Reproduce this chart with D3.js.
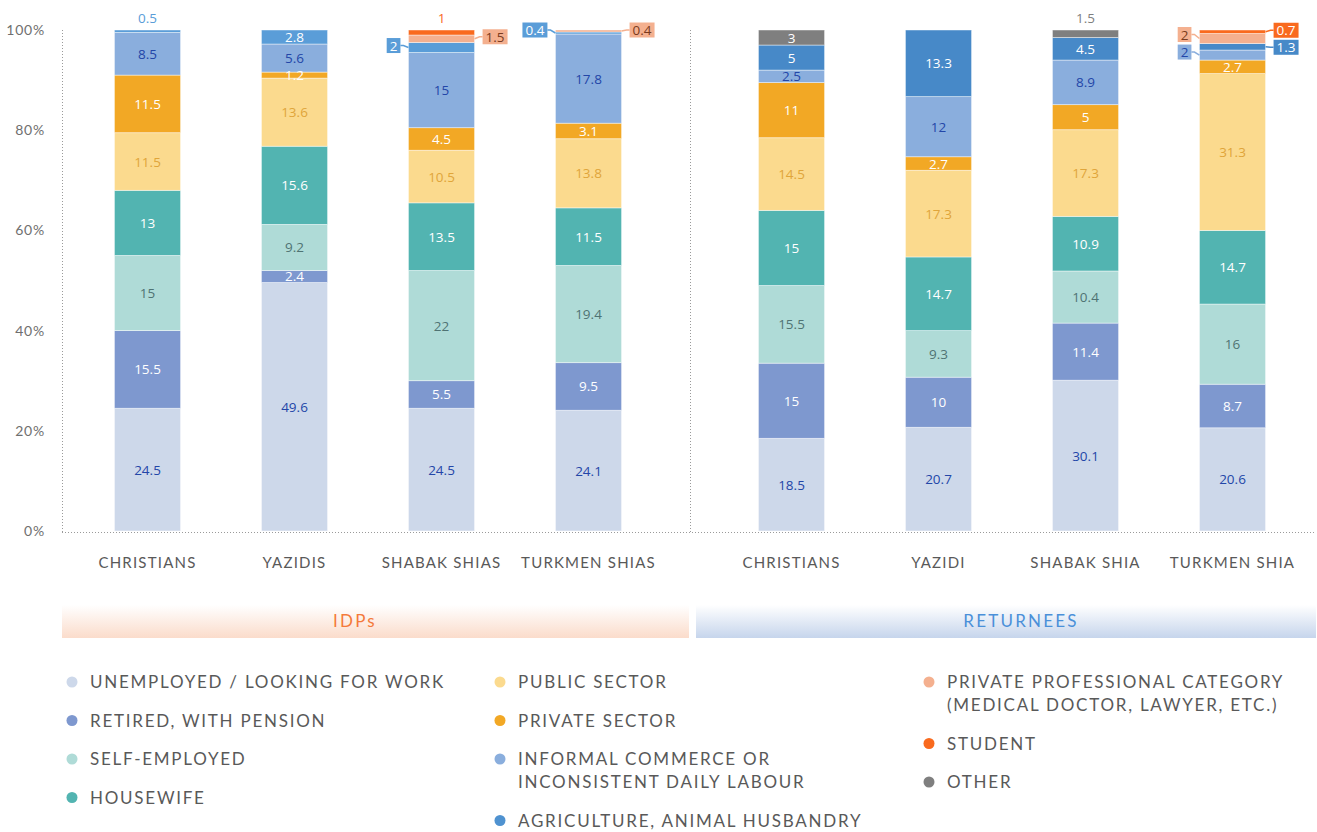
<!DOCTYPE html>
<html lang="en">
<head>
<meta charset="UTF-8">
<title>Employment status of IDPs and returnees</title>
<script src="https://d3js.org/d3.v7.min.js"></script>
<style>
  body { margin: 0; background: #fff; }
  svg { display: block; }
  .cat, .tick-lbl, .legend text, .group-lbl { font-family: Lato, "Open Sans", sans-serif; }
  .num { font-family: "Open Sans", sans-serif; font-size: 13.5px; }
</style>
</head>
<body>
<div id="chart"></div>
<script>
// categories
const idpCats = ["CHRISTIANS", "YAZIDIS", "SHABAK SHIAS", "TURKMEN SHIAS"];
const retCats = ["CHRISTIANS", "YAZIDI", "SHABAK SHIA", "TURKMEN SHIA"];
const groups = ["IDPs", "RETURNEES"];
const yTicks = [0, 20, 40, 60, 80, 100];

// series values, 4 IDP bars then 4 returnee bars (%)
const unemployed    = [24.5, 49.6, 24.5, 24.1, 18.5, 20.7, 30.1, 20.6];
const retired       = [15.5, 2.4, 5.5, 9.5, 15, 10, 11.4, 8.7];
const selfEmployed  = [15, 9.2, 22, 19.4, 15.5, 9.3, 10.4, 16];
const housewife     = [13, 15.6, 13.5, 11.5, 15, 14.7, 10.9, 14.7];
const publicSector  = [11.5, 13.6, 10.5, 13.8, 14.5, 17.3, 17.3, 31.3];
const privateSector = [11.5, 1.2, 4.5, 3.1, 11, 2.7, 5, 2.7];
const informal      = [8.5, 5.6, 15, 17.8, 2.5, 12, 8.9, 2];
const agriculture   = [0.5, 2.8, 2, 0.4, 5, 13.3, 4.5, 1.3];
const privateProf   = [0, 0, 1.5, 0.4, 0, 0, 0, 2];
const student       = [0, 0, 1, 0, 0, 0, 0, 0.7];
const other         = [0, 0, 0, 0, 3, 0, 1.5, 0];

const seriesKeys = ["unemployed", "retired", "selfEmployed", "housewife", "publicSector",
  "privateSector", "informal", "agriculture", "privateProf", "student", "other"];
const seriesValues = { unemployed, retired, selfEmployed, housewife, publicSector,
  privateSector, informal, agriculture, privateProf, student, other };
const seriesNames = {
  unemployed: ["UNEMPLOYED / LOOKING FOR WORK"],
  retired: ["RETIRED, WITH PENSION"],
  selfEmployed: ["SELF-EMPLOYED"],
  housewife: ["HOUSEWIFE"],
  publicSector: ["PUBLIC SECTOR"],
  privateSector: ["PRIVATE SECTOR"],
  informal: ["INFORMAL COMMERCE OR", "INCONSISTENT DAILY LABOUR"],
  agriculture: ["AGRICULTURE, ANIMAL HUSBANDRY"],
  privateProf: ["PRIVATE PROFESSIONAL CATEGORY", "(MEDICAL DOCTOR, LAWYER, ETC.)"],
  student: ["STUDENT"],
  other: ["OTHER"]
};

// styles
const fills = {
  unemployed: "#cdd8ea", retired: "#7e98cf", selfEmployed: "#afdbd7", housewife: "#52b4b1",
  publicSector: "#fbda8e", privateSector: "#f2a825", informal: "#8aaedd", agriculture: "#5a9dd8",
  privateProf: "#f4b08f", student: "#f96a1e", other: "#7f7f7f"
};
const retAgriFill = "#4789c8";
const labelColors = {
  unemployed: "#2346a8", retired: "#ffffff", selfEmployed: "#4f7373", housewife: "#ffffff",
  publicSector: "#e0a53a", privateSector: "#ffffff", informal: "#2346a8", agriculture: "#ffffff",
  privateProf: "#7a3b20", student: "#ffffff", other: "#ffffff"
};
const topColors = { agriculture: "#5a9dd8", student: "#f96a1e", other: "#7f7f7f" };

// label placement for thin segments
const callouts = [
  { bar: 0, key: "agriculture", pos: "top" },
  { bar: 2, key: "agriculture", pos: "left", dy: -2 },
  { bar: 2, key: "privateProf", pos: "right", dy: -2 },
  { bar: 2, key: "student", pos: "top" },
  { bar: 3, key: "agriculture", pos: "left", dy: -3 },
  { bar: 3, key: "privateProf", pos: "right", dy: -1 },
  { bar: 6, key: "other", pos: "top" },
  { bar: 7, key: "informal", pos: "left", dy: -3 },
  { bar: 7, key: "agriculture", pos: "right", dy: 0.5 },
  { bar: 7, key: "privateProf", pos: "left", dy: -4 },
  { bar: 7, key: "student", pos: "right", dy: -1.5 }
];

const width = 1317, height = 832;
const svg = d3.select("#chart").append("svg")
  .attr("width", width).attr("height", height);

const y = d3.scaleLinear().domain([0, 100]).range([531, 30]);
const xL = d3.scaleBand().domain(idpCats).range([74, 662]).paddingInner(0.55).paddingOuter(0.275);
const xR = d3.scaleBand().domain(retCats).range([718, 1306]).paddingInner(0.55).paddingOuter(0.275);
const barX = i => i < 4 ? xL(idpCats[i]) : xR(retCats[i - 4]);
const bw = xL.bandwidth();

// frame: dotted left, divider and bottom
const dot = { stroke: "#9a9a9a", "stroke-width": 1, "stroke-dasharray": "1,2" };
function dline(x1, y1, x2, y2) {
  const l = svg.append("line").attr("x1", x1).attr("y1", y1).attr("x2", x2).attr("y2", y2);
  Object.entries(dot).forEach(([k, v]) => l.attr(k, v));
}
dline(62.5, 30, 62.5, 532);
dline(690.5, 30, 690.5, 532);
dline(62, 532.5, 1316, 532.5);

// y ticks
svg.append("g").selectAll("text").data(yTicks).join("text")
  .attr("class", "tick-lbl")
  .attr("x", 45).attr("y", d => y(d) + 5)
  .attr("text-anchor", "end")
  .attr("fill", "#6f6f6f").style("font-size", "14px").style("letter-spacing", "0.8px")
  .text(d => d + "%");

// stacked data
const rows = d3.range(8).map(i => {
  const r = { i };
  seriesKeys.forEach(k => r[k] = seriesValues[k][i]);
  return r;
});
const stacked = d3.stack().keys(seriesKeys)(rows);

const gBars = svg.append("g");
stacked.forEach(layer => {
  gBars.append("g").selectAll("rect")
    .data(layer.filter(d => d[1] - d[0] > 0))
    .join("rect")
    .attr("x", d => barX(d.data.i))
    .attr("width", bw)
    .attr("y", d => y(d[1]))
    .attr("height", d => y(d[0]) - y(d[1]))
    .attr("fill", d => layer.key === "agriculture" && d.data.i >= 4 ? retAgriFill : fills[layer.key])
    .attr("stroke", "#ffffff").attr("stroke-opacity", 0.55).attr("stroke-width", 0.8);
});

// value labels
const isCallout = (i, k) => callouts.some(c => c.bar === i && c.key === k);
const gLbl = svg.append("g");
stacked.forEach(layer => {
  layer.forEach(d => {
    const v = d[1] - d[0];
    if (v <= 0 || isCallout(d.data.i, layer.key)) return;
    gLbl.append("text").attr("class", "num")
      .attr("x", barX(d.data.i) + bw / 2)
      .attr("y", (y(d[0]) + y(d[1])) / 2 + 5)
      .attr("text-anchor", "middle")
      .attr("fill", labelColors[layer.key])
      .text(+v.toFixed(1));
  });
});

// callouts
callouts.forEach(c => {
  const layer = stacked.find(l => l.key === c.key);
  const d = layer[c.bar];
  const v = +(d[1] - d[0]).toFixed(1);
  const cx = barX(c.bar) + bw / 2;
  const segY = (y(d[0]) + y(d[1])) / 2;
  if (c.pos === "top") {
    gLbl.append("text").attr("class", "num")
      .attr("x", cx).attr("y", y(d[1]) - 7)
      .attr("text-anchor", "middle")
      .attr("fill", topColors[c.key]).text(v);
    return;
  }
  const fill = c.key === "agriculture" && c.bar >= 4 ? retAgriFill : fills[c.key];
  const t = gLbl.append("text").attr("class", "num")
    .attr("fill", labelColors[c.key]).text(v);
  const tw = t.node().getComputedTextLength();
  const boxW = tw + 6, boxH = 15;
  const boxCy = segY + (c.dy || 0);
  const edge = c.pos === "left" ? barX(c.bar) : barX(c.bar) + bw;
  const bx = c.pos === "left" ? edge - 8 - boxW : edge + 8;
  const near = c.pos === "left" ? bx + boxW : bx;
  gLbl.insert("path", "text")
    .attr("d", `M${near},${boxCy}L${near + (c.pos === "left" ? 3 : -3)},${boxCy}L${edge},${segY}`)
    .attr("fill", "none").attr("stroke", fill).attr("stroke-width", 1.5);
  gLbl.insert("rect", "text")
    .attr("x", bx).attr("y", boxCy - boxH / 2).attr("width", boxW).attr("height", boxH)
    .attr("fill", fill);
  t.attr("x", bx + boxW / 2).attr("y", boxCy + 5).attr("text-anchor", "middle");
  t.raise();
});

// category labels
const catLbl = svg.append("g").attr("class", "cat")
  .attr("fill", "#595959").style("font-size", "15px").style("letter-spacing", "1.2px");
idpCats.forEach(c => catLbl.append("text").attr("x", xL(c) + bw / 2).attr("y", 568)
  .attr("text-anchor", "middle").text(c));
retCats.forEach(c => catLbl.append("text").attr("x", xR(c) + bw / 2).attr("y", 568)
  .attr("text-anchor", "middle").text(c));

// group bands
const defs = svg.append("defs");
const grads = [["gIdp", "#fbdccb"], ["gRet", "#c6d5ec"]];
grads.forEach(([id, c]) => {
  const lg = defs.append("linearGradient").attr("id", id)
    .attr("x1", "0%").attr("y1", "0%").attr("x2", "0%").attr("y2", "100%");
  lg.append("stop").attr("offset", "0%").attr("stop-color", "#ffffff");
  lg.append("stop").attr("offset", "100%").attr("stop-color", c);
});
const bands = [
  { x0: 62, x1: 689, tx: 355, grad: "gIdp", color: "#f47a3a" },
  { x0: 696, x1: 1316, tx: 1021, grad: "gRet", color: "#4a90d9" }
];
bands.forEach((b, i) => {
  svg.append("rect").attr("x", b.x0).attr("y", 605).attr("width", b.x1 - b.x0).attr("height", 33)
    .attr("fill", `url(#${b.grad})`);
  svg.append("text").attr("class", "group-lbl")
    .attr("x", b.tx).attr("y", 627)
    .attr("text-anchor", "middle").attr("fill", b.color)
    .style("font-size", "17px").style("letter-spacing", "2.2px")
    .text(groups[i]);
});

// legend
const legendCols = [
  { x: 72, keys: ["unemployed", "retired", "selfEmployed", "housewife"] },
  { x: 500, keys: ["publicSector", "privateSector", "informal", "agriculture"] },
  { x: 929, keys: ["privateProf", "student", "other"] }
];
const leg = svg.append("g").attr("class", "legend");
legendCols.forEach(col => {
  let yy = 682;
  col.keys.forEach(k => {
    const lines = seriesNames[k];
    leg.append("circle").attr("cx", col.x).attr("cy", yy).attr("r", 5.5)
      .attr("fill", k === "agriculture" ? "#4f92d0" : fills[k]);
    lines.forEach((ln, j) => {
      leg.append("text").attr("x", col.x + 18).attr("y", yy + 6 + j * 23)
        .attr("fill", "#595959").style("font-size", "17px").style("letter-spacing", "1.75px")
        .text(ln);
    });
    yy += 38.5 + (lines.length - 1) * 23;
  });
});
</script>
</body>
</html>
